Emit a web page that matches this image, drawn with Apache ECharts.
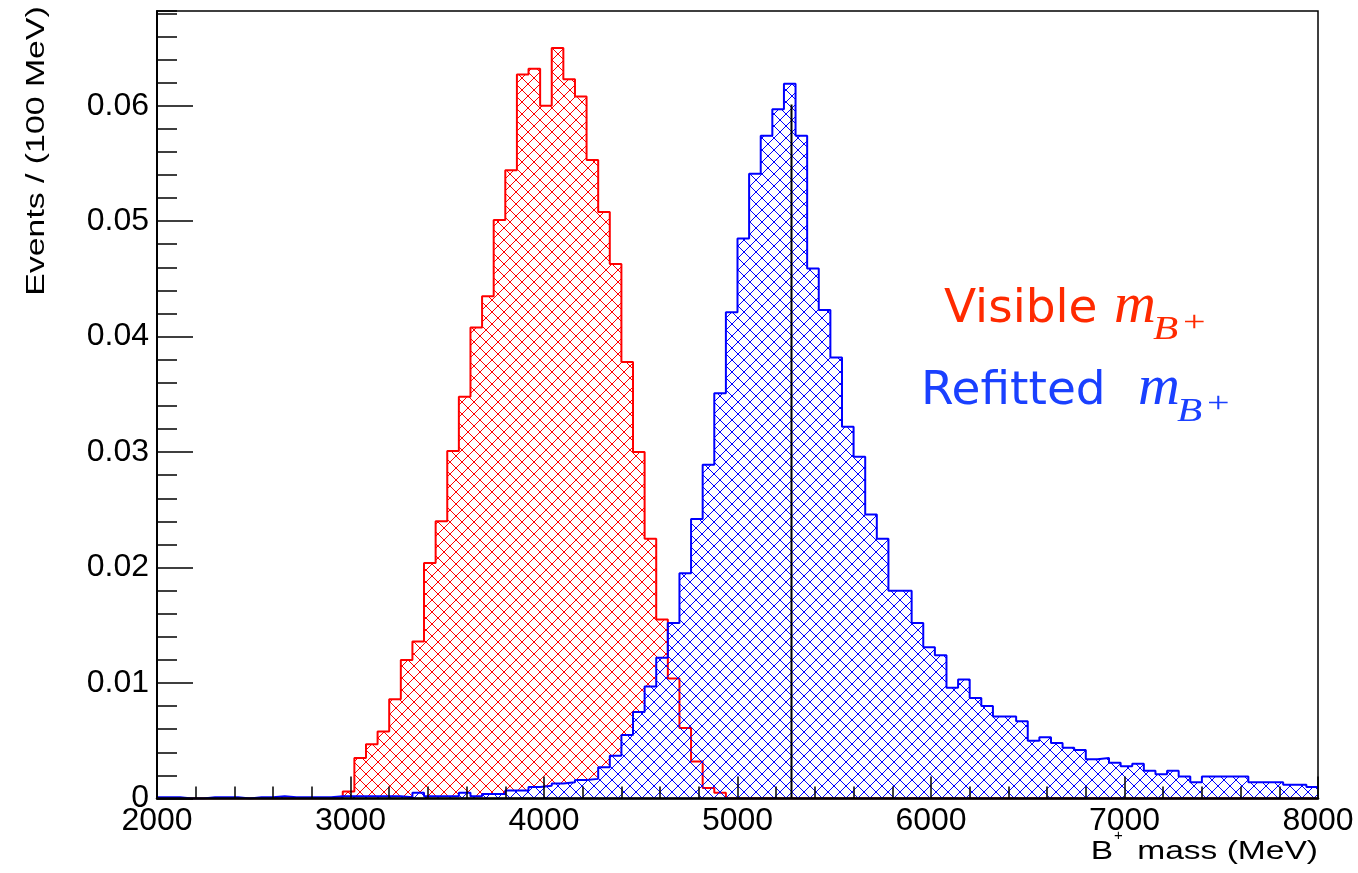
<!DOCTYPE html>
<html>
<head>
<meta charset="utf-8">
<script src="https://cdn.jsdelivr.net/npm/echarts@6/dist/echarts.min.js"></script>
<style>
  html, body { margin: 0; padding: 0; background: #ffffff; }
  #chart { width: 1358px; height: 873px; }
</style>
</head>
<body>
<div id="chart"></div>
<script>
// Binning of both B+ mass histograms: 100 bins of 60 MeV between 2000 and 8000 MeV
const massMin = 2000;
const massMax = 8000;
const binWidth = 60;
const massTickStep = 1000;

// Vertical range of the event-fraction axis
const yMin = 0;
const yMax = 0.0682;
const yMajorStep = 0.01;
const yMinorStep = 0.002;

// Visible B+ mass (red), normalised contents per bin
const visibleCounts = [
  0, 0, 0, 0, 0, 0, 0, 0, 0, 0,
  0, 0, 0, 0, 0, 0, 0.0006, 0.0035, 0.0047, 0.0058,
  0.0086, 0.0120, 0.0136, 0.0204, 0.0240, 0.0301, 0.0348, 0.0408, 0.0435, 0.0501,
  0.0544, 0.0627, 0.0632, 0.0600, 0.0650, 0.0623, 0.0608, 0.0553, 0.0508, 0.0463,
  0.0378, 0.0300, 0.0225, 0.0155, 0.0104, 0.0061, 0.0032, 0.0009, 0.0005, 0,
  0, 0, 0, 0, 0, 0, 0, 0, 0, 0,
  0, 0, 0, 0, 0, 0, 0, 0, 0, 0,
  0, 0, 0, 0, 0, 0, 0, 0, 0, 0,
  0, 0, 0, 0, 0, 0, 0, 0, 0, 0,
  0, 0, 0, 0, 0, 0, 0, 0, 0, 0
];

// Refitted B+ mass (blue), normalised contents per bin
const refittedCounts = [
  0.0001, 0.0001, 0, 0, 0.0001, 0.0001, 0.0001, 0, 0.0001, 0.0001,
  0.0002, 0.0001, 0.0001, 0.0001, 0.0001, 0.0002, 0.0002, 0.0002, 0.0002, 0.0002,
  0.0002, 0.0001, 0.0005, 0.0002, 0.0002, 0.0002, 0.0005, 0.0002, 0.0004, 0.0004,
  0.0007, 0.0007, 0.0010, 0.0011, 0.0013, 0.0014, 0.0016, 0.0017, 0.0027, 0.0037,
  0.0055, 0.0075, 0.0097, 0.0122, 0.0152, 0.0195, 0.0242, 0.0289, 0.0351, 0.0421,
  0.0485, 0.0541, 0.0574, 0.0597, 0.0619, 0.0574, 0.0459, 0.0423, 0.0382, 0.0322,
  0.0296, 0.0246, 0.0225, 0.0180, 0.0180, 0.0152, 0.0131, 0.0124, 0.0096, 0.0103,
  0.0087, 0.0080, 0.0071, 0.0071, 0.0067, 0.0050, 0.0053, 0.0048, 0.0044, 0.0042,
  0.0034, 0.0035, 0.0031, 0.0028, 0.0030, 0.0024, 0.0021, 0.0024, 0.0019, 0.0014,
  0.0019, 0.0019, 0.0019, 0.0019, 0.0014, 0.0014, 0.0014, 0.0012, 0.0012, 0.0010
];

// Nominal B+ mass marker
const bMassNominal = [5279, 5279];
const bMassMarkerRange = [0, 0.0601];

const RED = '#ff0000';
const BLUE = '#0000ff';
const RED_TEXT = '#ff2a00';
const BLUE_TEXT = '#1a40ff';

// Bin contents -> step outline points at the lower bin edges, closed at the upper range end
function stepPoints(counts) {
  const pts = counts.map((v, i) => [massMin + i * binWidth, v]);
  pts.push([massMax, counts[counts.length - 1]]);
  return pts;
}

// Cross-hatch fill tile (two diagonals per tile)
function hatchTile(color) {
  const s = 12;
  const c = document.createElement('canvas');
  c.width = s; c.height = s;
  const g = c.getContext('2d');
  g.strokeStyle = color;
  g.lineWidth = 1;
  g.beginPath();
  g.moveTo(0, 0); g.lineTo(s, s);
  g.moveTo(s, 0); g.lineTo(0, s);
  g.stroke();
  return c;
}

const chart = echarts.init(document.getElementById('chart'), null, { renderer: 'canvas' });

const labelFont = { fontFamily: 'Liberation Sans', fontSize: 32, color: '#000' };
const titleFont = '26px "Liberation Sans"';

// Pieces of an italic m_{B^{+}} label placed from its left edge and vertical centre
function massSymbol(x, y, color) {
  return [
    { type: 'text', x: x, y: y, z: 20,
      style: { text: 'm', font: 'italic 58px "Liberation Serif"', fill: color, align: 'left', verticalAlign: 'middle' } },
    { type: 'text', x: x + 39, y: y + 23.6, scaleX: 1.25, z: 20,
      style: { text: 'B', font: 'italic 33px "Liberation Serif"', fill: color, align: 'left', verticalAlign: 'middle' } },
    { type: 'text', x: x + 69, y: y + 16, scaleY: 0.72, z: 20,
      style: { text: '+', font: '40px "Liberation Serif"', fill: color, align: 'left', verticalAlign: 'middle' } }
  ];
}

chart.setOption({
  animation: false,
  backgroundColor: '#ffffff',
  grid: {
    left: 157, right: 40, top: 11, bottom: 74.5,
    show: true, borderColor: '#000', borderWidth: 1.5, backgroundColor: 'transparent'
  },
  xAxis: {
    type: 'value', min: massMin, max: massMax, interval: massTickStep, z: 10,
    axisLine: { show: true, lineStyle: { color: '#000', width: 2.5 } },
    axisTick: { show: true, inside: true, length: 22, lineStyle: { color: '#000', width: 1.5 } },
    minorTick: { show: true, splitNumber: 5, length: 12, lineStyle: { color: '#000', width: 1.5 } },
    axisLabel: Object.assign({ margin: 7, formatter: v => String(v) }, labelFont),
    splitLine: { show: false }
  },
  yAxis: [
    {
      type: 'value', position: 'left', min: yMin, max: yMax, interval: yMajorStep, z: 10,
      axisLine: { show: true, lineStyle: { color: '#000', width: 2 } },
      axisTick: { show: true, inside: true, length: 36, lineStyle: { color: '#000', width: 1.5 } },
      axisLabel: Object.assign({ margin: 8, showMaxLabel: false }, labelFont),
      splitLine: { show: false }
    },
    {
      type: 'value', position: 'left', min: yMin, max: yMax, interval: yMinorStep, z: 10,
      axisLine: { show: false },
      axisTick: { show: true, inside: true, length: 20, lineStyle: { color: '#000', width: 1.5 } },
      axisLabel: { show: false },
      splitLine: { show: false }
    }
  ],
  series: [
    {
      name: 'Visible', type: 'line', step: 'end', yAxisIndex: 0,
      data: stepPoints(visibleCounts),
      symbol: 'none', showSymbol: false,
      lineStyle: { color: RED, width: 2 },
      areaStyle: { color: { image: hatchTile(RED), repeat: 'repeat' }, opacity: 1 },
      z: 2
    },
    {
      name: 'Refitted', type: 'line', step: 'end', yAxisIndex: 0,
      data: stepPoints(refittedCounts),
      symbol: 'none', showSymbol: false,
      lineStyle: { color: BLUE, width: 2 },
      areaStyle: { color: { image: hatchTile(BLUE), repeat: 'repeat' }, opacity: 1 },
      z: 3
    },
    {
      name: 'B+ mass', type: 'line', yAxisIndex: 0,
      data: bMassNominal.map((x, i) => [x, bMassMarkerRange[i]]),
      symbol: 'none', showSymbol: false,
      lineStyle: { color: '#000', width: 2 },
      z: 4
    }
  ],
  graphic: [
    // y-axis title
    {
      type: 'text', x: 37, y: 151, rotation: Math.PI / 2, scaleX: 1.3,
      style: { text: 'Events / (100 MeV)', font: titleFont, fill: '#000', align: 'center', verticalAlign: 'middle' }
    },
    // x-axis title: B^{+} mass (MeV)
    {
      type: 'text', x: 1318, y: 852, scaleX: 1.29,
      style: { text: ' mass (MeV)', font: titleFont, fill: '#000', align: 'right', verticalAlign: 'middle' }
    },
    {
      type: 'text', x: 1113, y: 852, scaleX: 1.29,
      style: { text: 'B', font: titleFont, fill: '#000', align: 'right', verticalAlign: 'middle' }
    },
    {
      type: 'text', x: 1114, y: 836,
      style: { text: '+', font: '15px "Liberation Sans"', fill: '#000', align: 'left', verticalAlign: 'middle' }
    },
    // annotation: Visible m_{B+}
    {
      type: 'text', x: 944, y: 310,
      style: { text: 'Visible', font: '47px "DejaVu Sans"', fill: RED_TEXT, align: 'left', verticalAlign: 'middle' }
    }
  ].concat(massSymbol(1114, 307, RED_TEXT)).concat([
    // annotation: Refitted m_{B+}
    {
      type: 'text', x: 921, y: 391.5,
      style: { text: 'Refitted', font: '47px "DejaVu Sans"', fill: BLUE_TEXT, align: 'left', verticalAlign: 'middle' }
    }
  ]).concat(massSymbol(1138, 388.7, BLUE_TEXT))
});
</script>
</body>
</html>
